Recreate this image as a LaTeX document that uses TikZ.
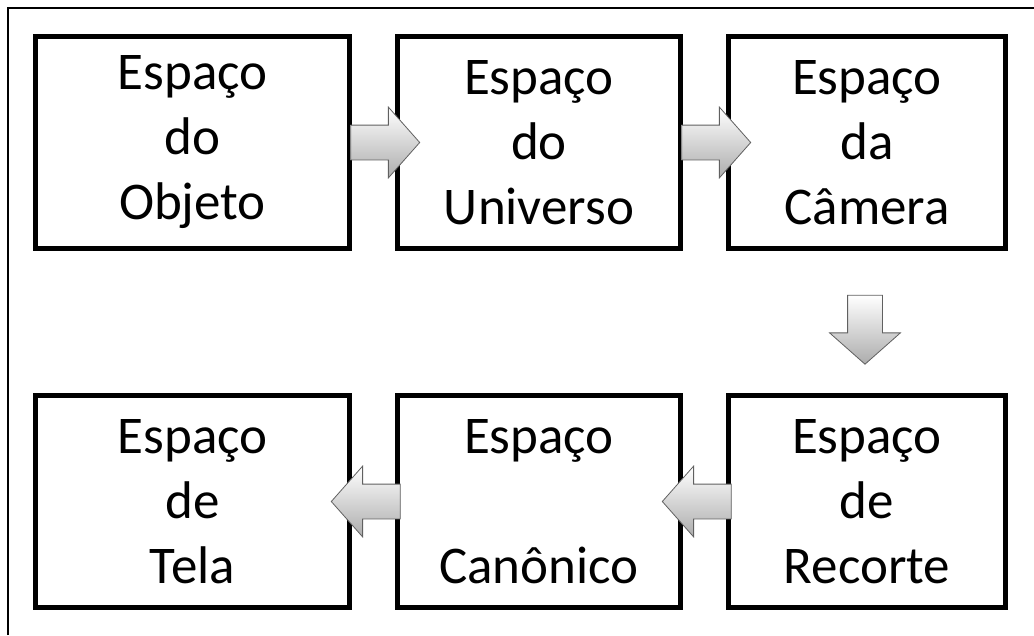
\documentclass[tikz,border=0pt]{standalone}
\usepackage{fontspec}
\setmainfont{Carlito}
\usetikzlibrary{shapes.arrows, positioning, calc}

\begin{document}
\begin{tikzpicture}[x=1pt, y=1pt,
  box/.style={rectangle, draw, line width=5pt, minimum height=212pt,
              inner sep=0pt, align=center, font=\fontsize{53}{65}\selectfont},
  blkarrow/.style={single arrow, draw=gray!75!black, line width=0.8pt,
                   top color=white, bottom color=gray!65, inner xsep=0pt,
                   inner ysep=17pt, minimum height=69pt,
                   single arrow head extend=18pt, single arrow tip angle=97},
  downarrow/.style={blkarrow, shape border rotate=270, inner xsep=17pt, inner ysep=0pt}
]
\useasboundingbox (0,0) rectangle (1034,-635);
\draw[line width=1.5pt] (8,-635) |- (1034,-8);

\node[box, minimum width=314pt] (objeto) at (192.5,-142.5) {Espaço\\do\\Objeto};
\node[box, minimum width=283pt, right=43pt of objeto] (universo) {Espaço\\do\\Universo};
\node[box, minimum width=277pt, right=43pt of universo] (camera) {Espaço\\da\\Câmera};

% linha de baixo, da direita para a esquerda
\node[box, minimum width=277pt, below=142pt of camera] (recorte) {Espaço\\de\\Recorte};
\node[box, minimum width=283pt, left=43pt of recorte] (canonico) {Espaço\\\\Canônico};
\node[box, minimum width=314pt, left=43pt of canonico] (tela) {Espaço\\de\\Tela};

\node[blkarrow, xshift=4pt] (a1) at ($(objeto.east)!0.5!(universo.west)$) {};
\node[blkarrow, xshift=4pt] (a2) at ($(universo.east)!0.5!(camera.west)$) {};
\node[downarrow, xshift=-2pt] (a3) at ($(camera.south)!0.5!(recorte.north)$) {};
\node[blkarrow, shape border rotate=180] (a4) at ($(recorte.west)!0.5!(canonico.east)$) {};
\node[blkarrow, shape border rotate=180] (a5) at ($(canonico.west)!0.5!(tela.east)$) {};
\end{tikzpicture}
\end{document}
